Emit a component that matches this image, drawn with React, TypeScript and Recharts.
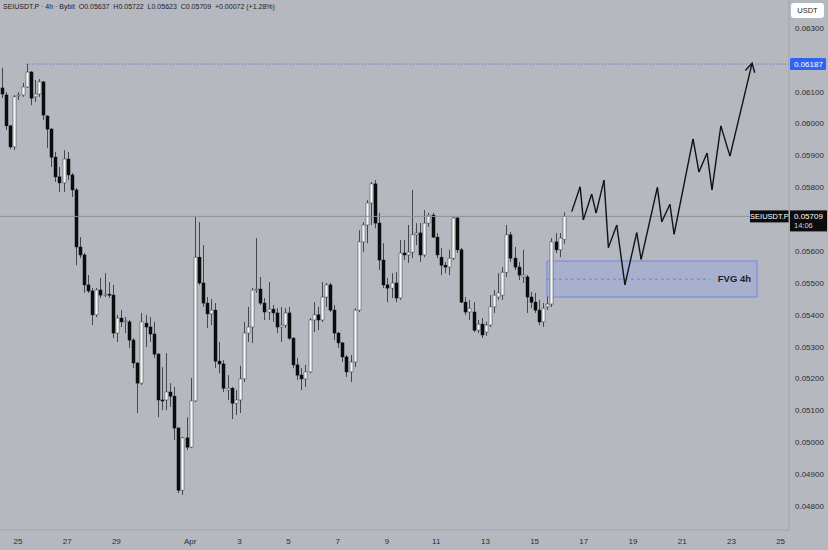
import { ComposedChart, Bar, XAxis, YAxis, ReferenceLine, ReferenceArea } from "recharts"

document.body.style.margin = "0"

// time axis: days counted from Mar 25 00:00, one candle = 4h
const firstCandleDay = -2 / 3

const opens = [
  0.06112, 0.06090, 0.05993, 0.05927, 0.06087, 0.06090, 0.06115, 0.06162, 0.06084, 0.06093,
  0.06131, 0.06024, 0.05983, 0.05895, 0.05833, 0.05814, 0.05889, 0.05839, 0.05792, 0.05613,
  0.05588, 0.05494, 0.05475, 0.05400, 0.05478, 0.05462, 0.05465, 0.05462, 0.05343, 0.05390,
  0.05378, 0.05378, 0.05321, 0.05249, 0.05186, 0.05374, 0.05362, 0.05340, 0.05277, 0.05133,
  0.05133, 0.05158, 0.05145, 0.05045, 0.04850, 0.05014, 0.04985, 0.05130, 0.05581, 0.05500,
  0.05437, 0.05403, 0.05415, 0.05255, 0.05246, 0.05164, 0.05170, 0.05123, 0.05133, 0.05199,
  0.05343, 0.05362, 0.05478, 0.05481, 0.05437, 0.05409, 0.05418, 0.05406, 0.05362, 0.05368,
  0.05406, 0.05327, 0.05243, 0.05211, 0.05199, 0.05221, 0.05384, 0.05400, 0.05384, 0.05456,
  0.05494, 0.05415, 0.05343, 0.05312, 0.05268, 0.05221, 0.05252, 0.05415, 0.05629, 0.05682,
  0.05751, 0.05811, 0.05688, 0.05572, 0.05494, 0.05484, 0.05500, 0.05453, 0.05594, 0.05588,
  0.05597, 0.05651, 0.05657, 0.05588, 0.05688, 0.05713, 0.05644, 0.05581, 0.05556, 0.05550,
  0.05578, 0.05704, 0.05604, 0.05440, 0.05409, 0.05409, 0.05352, 0.05371, 0.05346, 0.05368,
  0.05425, 0.05456, 0.05462, 0.05534, 0.05651, 0.05578, 0.05550, 0.05519, 0.05519, 0.05456,
  0.05440, 0.05415, 0.05378, 0.05425, 0.05434, 0.05629, 0.05604, 0.05637,
]

const highs = [
  0.06175, 0.06099, 0.05996, 0.06090, 0.06099, 0.06128, 0.06187, 0.06165, 0.06137, 0.06140,
  0.06134, 0.06027, 0.05986, 0.05911, 0.05864, 0.05917, 0.05911, 0.05845, 0.05798, 0.05644,
  0.05594, 0.05525, 0.05484, 0.05484, 0.05516, 0.05531, 0.05503, 0.05494, 0.05400, 0.05415,
  0.05393, 0.05384, 0.05327, 0.05252, 0.05406, 0.05400, 0.05393, 0.05378, 0.05280, 0.05236,
  0.05280, 0.05186, 0.05174, 0.05048, 0.05017, 0.05079, 0.05202, 0.05707, 0.05691, 0.05619,
  0.05456, 0.05450, 0.05437, 0.05315, 0.05258, 0.05211, 0.05174, 0.05164, 0.05240, 0.05378,
  0.05425, 0.05484, 0.05641, 0.05519, 0.05453, 0.05503, 0.05431, 0.05421, 0.05425, 0.05421,
  0.05425, 0.05330, 0.05265, 0.05233, 0.05243, 0.05390, 0.05440, 0.05425, 0.05503, 0.05500,
  0.05500, 0.05431, 0.05346, 0.05315, 0.05274, 0.05274, 0.05421, 0.05666, 0.05691, 0.05760,
  0.05817, 0.05823, 0.05720, 0.05625, 0.05516, 0.05531, 0.05534, 0.05635, 0.05635, 0.05682,
  0.05792, 0.05688, 0.05688, 0.05729, 0.05720, 0.05720, 0.05657, 0.05610, 0.05566, 0.05604,
  0.05707, 0.05707, 0.05610, 0.05456, 0.05447, 0.05440, 0.05384, 0.05390, 0.05378, 0.05462,
  0.05478, 0.05531, 0.05550, 0.05682, 0.05660, 0.05613, 0.05566, 0.05604, 0.05525, 0.05472,
  0.05469, 0.05447, 0.05437, 0.05456, 0.05641, 0.05657, 0.05657, 0.05722,
]

const lows = [
  0.06080, 0.05980, 0.05920, 0.05917, 0.06074, 0.06084, 0.06112, 0.06058, 0.06068, 0.06084,
  0.06011, 0.05924, 0.05864, 0.05817, 0.05785, 0.05785, 0.05823, 0.05770, 0.05556, 0.05578,
  0.05469, 0.05469, 0.05368, 0.05393, 0.05453, 0.05456, 0.05453, 0.05327, 0.05315, 0.05362,
  0.05343, 0.05296, 0.05233, 0.05092, 0.05180, 0.05299, 0.05315, 0.05265, 0.05079, 0.05101,
  0.05101, 0.05111, 0.05007, 0.04841, 0.04835, 0.04976, 0.04982, 0.05126, 0.05494, 0.05425,
  0.05359, 0.05368, 0.05233, 0.05217, 0.05158, 0.05133, 0.05073, 0.05086, 0.05092, 0.05189,
  0.05315, 0.05312, 0.05469, 0.05431, 0.05384, 0.05384, 0.05378, 0.05343, 0.05315, 0.05359,
  0.05321, 0.05233, 0.05196, 0.05164, 0.05174, 0.05217, 0.05346, 0.05352, 0.05378, 0.05425,
  0.05409, 0.05321, 0.05296, 0.05252, 0.05205, 0.05189, 0.05236, 0.05409, 0.05597, 0.05625,
  0.05682, 0.05672, 0.05541, 0.05484, 0.05440, 0.05453, 0.05440, 0.05447, 0.05572, 0.05563,
  0.05578, 0.05619, 0.05566, 0.05581, 0.05676, 0.05641, 0.05578, 0.05525, 0.05531, 0.05525,
  0.05572, 0.05594, 0.05437, 0.05400, 0.05384, 0.05346, 0.05343, 0.05327, 0.05334, 0.05362,
  0.05406, 0.05447, 0.05447, 0.05519, 0.05566, 0.05541, 0.05509, 0.05500, 0.05406, 0.05421,
  0.05406, 0.05368, 0.05362, 0.05415, 0.05425, 0.05594, 0.05581, 0.05623,
]

const closes = [
  0.06093, 0.05993, 0.05927, 0.06084, 0.06090, 0.06115, 0.06162, 0.06080, 0.06093, 0.06131,
  0.06027, 0.05983, 0.05895, 0.05833, 0.05814, 0.05889, 0.05839, 0.05792, 0.05613, 0.05588,
  0.05494, 0.05475, 0.05400, 0.05478, 0.05462, 0.05465, 0.05464, 0.05343, 0.05390, 0.05378,
  0.05381, 0.05321, 0.05249, 0.05186, 0.05378, 0.05362, 0.05340, 0.05277, 0.05133, 0.05130,
  0.05158, 0.05145, 0.05045, 0.04850, 0.05014, 0.04985, 0.05130, 0.05581, 0.05500, 0.05437,
  0.05403, 0.05415, 0.05255, 0.05246, 0.05170, 0.05170, 0.05123, 0.05133, 0.05199, 0.05343,
  0.05362, 0.05478, 0.05481, 0.05437, 0.05409, 0.05418, 0.05406, 0.05362, 0.05368, 0.05406,
  0.05327, 0.05243, 0.05211, 0.05199, 0.05221, 0.05384, 0.05400, 0.05384, 0.05456, 0.05494,
  0.05415, 0.05343, 0.05312, 0.05268, 0.05221, 0.05252, 0.05415, 0.05629, 0.05682, 0.05751,
  0.05811, 0.05688, 0.05572, 0.05494, 0.05484, 0.05500, 0.05453, 0.05594, 0.05588, 0.05597,
  0.05651, 0.05657, 0.05588, 0.05688, 0.05713, 0.05644, 0.05588, 0.05556, 0.05550, 0.05578,
  0.05704, 0.05604, 0.05440, 0.05409, 0.05421, 0.05352, 0.05371, 0.05337, 0.05368, 0.05425,
  0.05462, 0.05469, 0.05534, 0.05651, 0.05578, 0.05550, 0.05525, 0.05525, 0.05456, 0.05440,
  0.05415, 0.05378, 0.05421, 0.05434, 0.05629, 0.05604, 0.05641, 0.05709,
]

const xTicks = [0, 2, 4, 7, 9, 11, 13, 15, 17, 19, 21, 23, 25, 27, 29, 31]
const xTickLabels = ["25", "27", "29", "Apr", "3", "5", "7", "9", "11", "13", "15", "17", "19", "21", "23", "25"]
const priceTicks = [
  0.048, 0.049, 0.05, 0.051, 0.052, 0.053, 0.054, 0.055, 0.056, 0.058, 0.059, 0.06, 0.061, 0.063,
]

const lastPrice = 0.05709
const countdown = "14:06"
const targetPrice = 0.06187
const targetFromDay = firstCandleDay + 1

// FVG zone
const fvgFrom = 21.5
const fvgTo = 30.04
const fvgTop = 0.05569
const fvgBottom = 0.05456
const fvgMid = 0.05512
const fvgMidTo = 28.15

// projected path (hand drawn)
const pathDays = [
  22.51, 22.85, 22.98, 23.32, 23.5, 23.82, 24.0, 24.34, 24.67, 25.15, 25.33,
  25.99, 26.17, 26.5, 26.67, 27.44, 27.68, 28.01, 28.21, 28.57, 28.94, 29.84,
]
const pathPrices = [
  0.05724, 0.05802, 0.05698, 0.05779, 0.05719, 0.05823, 0.05611, 0.05682, 0.05494, 0.05658, 0.05574,
  0.058, 0.05692, 0.05747, 0.05653, 0.05952, 0.05848, 0.05908, 0.05792, 0.05993, 0.05898, 0.0619,
]

const candles = opens.map((open, i) => ({
  t: firstCandleDay + i / 6,
  open,
  high: highs[i],
  low: lows[i],
  close: closes[i],
  range: [lows[i], highs[i]],
}))

const xDomain = [-0.73, 31.34]
const yDomain = [0.04725, 0.06388]

const bg = "#b5b8be"
const textColor = "#2a2d36"

function Candle(props: any) {
  const { x, y, width, height, payload } = props
  if (!payload) return null
  const top = Math.min(y, y + height)
  const h = Math.abs(height)
  const { open, close, high, low } = payload
  const k = high > low ? h / (high - low) : 0
  const cx = Math.round(x + width / 2) + 0.5
  const yO = top + (high - open) * k
  const yC = top + (high - close) * k
  const up = close >= open
  const bt = Math.min(yO, yC)
  const bh = Math.max(1, Math.abs(yC - yO))
  return (
    <g>
      <line x1={cx} x2={cx} y1={top} y2={top + h} stroke="#44474e" strokeWidth={1} />
      <rect
        x={cx - 1.5}
        y={bt}
        width={3}
        height={bh}
        fill={up ? "#f6f7f9" : "#0c0c0e"}
        stroke={up ? "#3a3d44" : "#0c0c0e"}
        strokeWidth={0.5}
      />
    </g>
  )
}

function LastPriceTag(props: any) {
  const { x, y, width } = props.viewBox
  const ax = x + width + 1
  return (
    <g>
      <rect x={ax - 40} y={y - 6} width={39} height={12} fill="#0c0c0e" />
      <text x={ax - 20.5} y={y + 3} fill="#fff" fontSize={7.5} textAnchor="middle">
        SEIUSDT.P
      </text>
      <rect x={ax} y={y - 6} width={37} height={21} fill="#0c0c0e" />
      <text x={ax + 4} y={y + 3} fill="#fff" fontSize={8}>
        {lastPrice.toFixed(5)}
      </text>
      <text x={ax + 4} y={y + 12} fill="#d8d8d8" fontSize={7.5}>
        {countdown}
      </text>
    </g>
  )
}

function TargetTag(props: any) {
  const { x, y, width } = props.viewBox
  const ax = x + width + 1
  return (
    <g>
      <rect x={ax} y={y - 6} width={36} height={12} rx={1.5} fill="#2f63f2" />
      <text x={ax + 4} y={y + 3} fill="#fff" fontSize={8}>
        {targetPrice.toFixed(5)}
      </text>
    </g>
  )
}

function ArrowEnd(props: any) {
  const { x1, y1, x2, y2 } = props
  const a = Math.atan2(y1 - y2, x1 - x2)
  const len = 10
  const s = 0.5
  return (
    <g stroke="#111216" strokeWidth={1.4} fill="none">
      <line x1={x1} y1={y1} x2={x2} y2={y2} />
      <polyline
        points={`${x2 + len * Math.cos(a - s)},${y2 + len * Math.sin(a - s)} ${x2},${y2} ${
          x2 + len * Math.cos(a + s)
        },${y2 + len * Math.sin(a + s)}`}
      />
    </g>
  )
}

export default function App() {
  const segs = pathDays.slice(1).map((d, i) => [
    { x: pathDays[i], y: pathPrices[i] },
    { x: d, y: pathPrices[i + 1] },
  ])
  return (
    <div
      style={{
        position: "relative",
        width: 828,
        height: 550,
        background: bg,
        fontFamily: "'Liberation Sans', Arial, sans-serif",
        overflow: "hidden",
      }}
    >
      <ComposedChart width={828} height={550} data={candles} margin={{ top: 0, right: 0, bottom: 0, left: 0 }}>
        <XAxis
          type="number"
          dataKey="t"
          domain={xDomain}
          allowDataOverflow
          ticks={xTicks}
          tickFormatter={(v) => xTickLabels[xTicks.indexOf(v)] ?? ""}
          interval={0}
          height={20}
          tickSize={0}
          tickMargin={8}
          tick={{ fill: textColor, fontSize: 8 }}
          axisLine={{ stroke: "#a2a5ab" }}
        />
        <YAxis
          type="number"
          orientation="right"
          domain={yDomain}
          allowDataOverflow
          ticks={priceTicks}
          tickFormatter={(v) => v.toFixed(5)}
          interval={0}
          width={39}
          tickSize={0}
          tickMargin={6}
          tick={{ fill: textColor, fontSize: 8 }}
          axisLine={{ stroke: "#a2a5ab" }}
        />
        <ReferenceLine y={lastPrice} stroke="#8e9197" strokeWidth={1} label={<LastPriceTag />} />
        <ReferenceArea
          x1={fvgFrom}
          x2={fvgTo}
          y1={fvgBottom}
          y2={fvgTop}
          fill="#8fa0ee"
          fillOpacity={0.35}
          stroke="#7486e0"
          strokeWidth={1}
          label={{ value: "FVG 4h", position: "insideRight", offset: 6, fill: "#1b1e2b", fontSize: 9.5, fontWeight: 700 }}
        />
        <ReferenceLine
          segment={[
            { x: fvgFrom, y: fvgMid },
            { x: fvgMidTo, y: fvgMid },
          ]}
          stroke="#6f80d8"
          strokeDasharray="3 3"
          ifOverflow="visible"
        />
        <ReferenceLine
          segment={[
            { x: targetFromDay, y: targetPrice },
            { x: xDomain[1], y: targetPrice },
          ]}
          stroke="#4f5fd0"
          strokeDasharray="1 2"
          ifOverflow="visible"
          label={<TargetTag />}
        />
        <Bar dataKey="range" barSize={3} shape={Candle} isAnimationActive={false} />
        {segs.map((seg, i) => (
          <ReferenceLine
            key={i}
            segment={seg}
            ifOverflow="visible"
            stroke="#111216"
            strokeWidth={1.4}
            shape={i === segs.length - 1 ? ArrowEnd : undefined}
          />
        ))}
      </ComposedChart>
      <div
        style={{
          position: "absolute",
          left: 3,
          top: 3,
          fontSize: 7,
          color: "#1d2029",
          whiteSpace: "nowrap",
        }}
      >
        SEIUSDT.P · 4h · Bybit&nbsp; O0.05637&nbsp; H0.05722&nbsp; L0.05623&nbsp; C0.05709&nbsp; +0.00072 (+1.28%)
      </div>
      <div
        style={{
          position: "absolute",
          left: 791,
          top: 3,
          width: 33,
          height: 15,
          lineHeight: "15px",
          background: "#ffffff",
          borderRadius: 3,
          fontSize: 7.5,
          color: "#1d2029",
          textAlign: "center",
        }}
      >
        USDT
      </div>
    </div>
  )
}
